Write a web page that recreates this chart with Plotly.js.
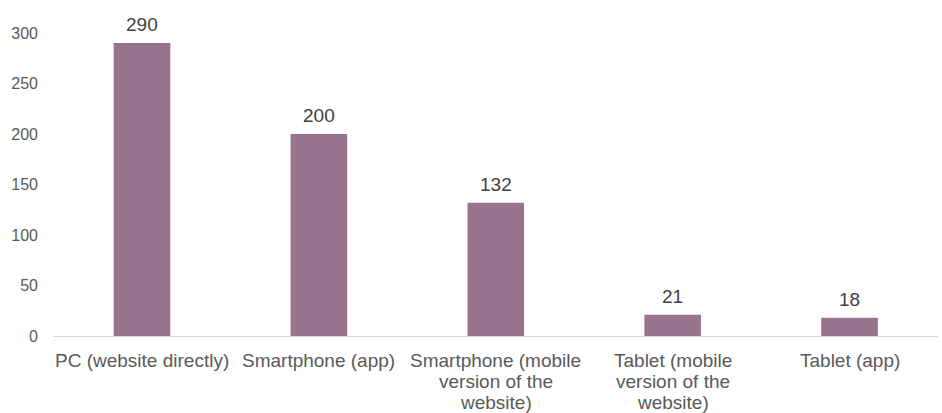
<!DOCTYPE html>
<html>
<head>
<meta charset="utf-8">
<script src="https://cdn.plot.ly/plotly-3.0.1.min.js"></script>
<style>html,body{margin:0;padding:0;background:#fff;}#chart{width:942px;height:413px;}</style>
</head>
<body>
<div id="chart"></div>
<script>
const categories = ["PC (website directly)", "Smartphone (app)", "Smartphone (mobile version of the website)", "Tablet (mobile version of the website)", "Tablet (app)"];
const categoryLines = [
  ["PC (website directly)"],
  ["Smartphone (app)"],
  ["Smartphone (mobile", "version of the", "website)"],
  ["Tablet (mobile", "version of the", "website)"],
  ["Tablet (app)"]
];
const values = [290, 200, 132, 21, 18];
const yTicks = [0, 50, 100, 150, 200, 250, 300];

const FONT = "Liberation Sans, Arial, sans-serif";

const trace = {
  type: "bar",
  x: categories,
  y: values,
  marker: {color: "#98738e"},
  width: 0.32,
  hoverinfo: "none"
};

const annotations = categories.map((c, i) => ({
  x: c, y: values[i], xref: "x", yref: "y",
  text: String(values[i]), showarrow: false,
  yanchor: "bottom", yshift: 6,
  font: {family: FONT, size: 19, color: "#404040"}
}));

categoryLines.forEach((lines, i) => {
  lines.forEach((line, j) => {
    annotations.push({
      x: categories[i], y: 0, xref: "x", yref: "paper",
      text: line, showarrow: false,
      yanchor: "top", yshift: -12 - j * 21,
      font: {family: FONT, size: 19, color: "#595959"}
    });
  });
});

const layout = {
  width: 942, height: 413,
  margin: {l: 53, r: 4, t: 33, b: 77},
  paper_bgcolor: "#fff", plot_bgcolor: "#fff",
  showlegend: false,
  font: {family: FONT, color: "#595959"},
  xaxis: {
    type: "category",
    showline: true, linecolor: "#d9d9d9", linewidth: 1,
    showgrid: false, zeroline: false, ticks: "",
    showticklabels: false
  },
  yaxis: {
    range: [0, 300],
    tickvals: yTicks, ticktext: yTicks.map(String),
    showgrid: false, zeroline: false, showline: false, ticks: "",
    tickfont: {size: 16, color: "#595959"},
    ticklabelstandoff: 14
  },
  annotations: annotations
};

Plotly.newPlot("chart", [trace], layout, {displayModeBar: false, staticPlot: true});
</script>
</body>
</html>
